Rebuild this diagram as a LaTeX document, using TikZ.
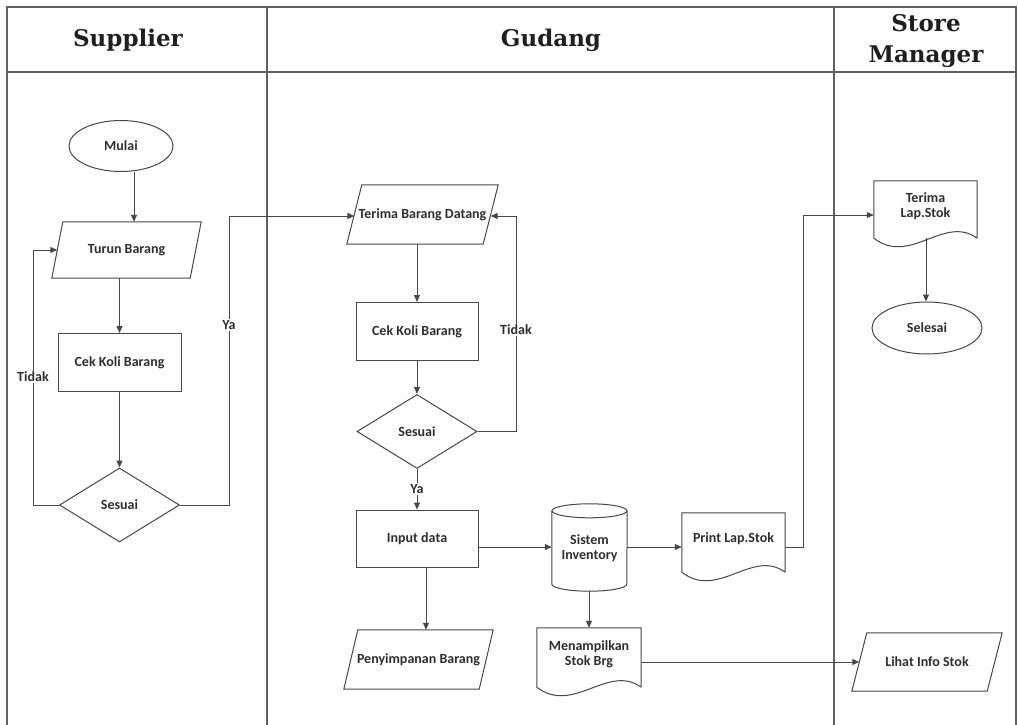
\documentclass[tikz,border=0pt]{standalone}
\usepackage{fontspec}
\setmainfont{Carlito}
\newfontfamily\headfont{DejaVu Serif}
\usetikzlibrary{shapes.geometric,arrows.meta,calc}

% outline helpers for shapes drawn around plain rectangular nodes
\newcommand\paraoutline[2]{%
  \draw[line] ([xshift=#2]#1.north west) -- (#1.north east)
    -- ([xshift=-#2]#1.south east) -- (#1.south west) -- cycle;}
\newcommand\docoutline[1]{%
  \draw[line] (#1.south east) -- (#1.north east) -- (#1.north west) -- (#1.south west)
    .. controls ($(#1.south west)!0.35!(#1.south east)+(0,28)$)
       and ($(#1.south west)!0.68!(#1.south east)+(0,-24)$) .. (#1.south east);}
\newcommand\cyloutline[3]{% node, x radius, y radius
  \draw[line] ([yshift=-#3]#1.north west) -- ([yshift=#3]#1.south west)
    arc[start angle=180, end angle=360, x radius=#2pt, y radius=#3pt]
    -- ([yshift=-#3]#1.north east);
  \draw[line] ([yshift=-#3]#1.north) ellipse[x radius=#2pt, y radius=#3pt];}

\begin{document}
\begin{tikzpicture}[x=1pt,y=-1pt,
  line/.style={draw=black!72, line width=1pt},
  frameline/.style={draw=black!62, line width=1.7pt},
  arr/.style={line, -{Triangle[length=7pt,width=6pt]}},
  txt/.style={font=\bfseries\fontsize{14}{16}\selectfont, text=black!82, align=center, inner sep=0pt},
  head/.style={font=\headfont\bfseries\fontsize{23}{31}\selectfont, text=black!88, align=center},
  procbox/.style={txt, rectangle, line, minimum width=#1, minimum height=58},
  termbox/.style={txt, ellipse, line, minimum width=#1, minimum height=51},
  decbox/.style={txt, diamond, line, minimum width=120, minimum height=74},
  plain/.style={txt, rectangle, minimum width=#1},
  lbl/.style={txt, fill=white, inner sep=1.5pt}
]
\useasboundingbox (0,0) rectangle (1018,725);

% swimlane frame
\draw[frameline] (7,725) -- (7,7) -- (1016,7) -- (1016,725);
\draw[frameline] (7,72) -- (1016,72);
\draw[frameline] (267,7) -- (267,725);
\draw[frameline] (834,7) -- (834,725);
\node[head] (hsup) at (128,40) {Supplier};
\node[head] (hgud) at (551,40) {Gudang};
\node[head] (hsm) at (926,41) {Store\\Manager};

% Supplier lane
\node[termbox=104] (mulai) at (121,146) {Mulai};
\node[plain=149, minimum height=56] (turun) at (126.5,250) {Turun Barang};
\paraoutline{turun}{11}
\node[procbox=123] (cek1) at (119.5,362.5) {Cek Koli Barang};
\node[decbox] (ses1) at (119.5,505) {Sesuai};

% Gudang lane
\node[plain=151, minimum height=59] (terima) at (422.5,214.5) {Terima Barang Datang};
\paraoutline{terima}{15}
\node[procbox=122] (cek2) at (417,331.5) {Cek Koli Barang};
\node[decbox] (ses2) at (417,431.5) {Sesuai};
\node[procbox=122, minimum height=57] (input) at (417,538.5) {Input data};
\node[plain=149, minimum height=59] (simpan) at (418.5,659.5) {Penyimpanan Barang};
\paraoutline{simpan}{14}
\node[plain=75, minimum height=87, text depth=0pt] (sistem) at (589.5,547.5) {Sistem\\[-1pt]Inventory};
\cyloutline{sistem}{37.5}{7}
\node[plain=103, minimum height=59] (print) at (733.5,542.5) {};
\node[txt] (printtxt) at (733.5,539) {Print Lap.Stok};
\docoutline{print}
\node[plain=104, minimum height=59] (tampil) at (589,657.5) {};
\node[txt] (tampiltxt) at (589,654.5) {Menampilkan\\[-1pt]Stok Brg};
\docoutline{tampil}

% Store Manager lane
\node[plain=103, minimum height=57] (terimalap) at (925.5,209.5) {};
\node[txt] (terimalaptxt) at (925.5,206.5) {Terima\\[-1pt]Lap.Stok};
\docoutline{terimalap}
\node[termbox=110, minimum height=52] (selesai) at (927,328) {Selesai};
\node[plain=150, minimum height=58] (lihat) at (927,662) {Lihat Info Stok};
\paraoutline{lihat}{15}

% routing points
\coordinate (xm) at (134,0);
\coordinate (xl) at (33,0);
\coordinate (xr) at (229,0);
\coordinate (xt) at (516,0);
\coordinate (xi) at (426,0);
\coordinate (xp) at (803,0);
\coordinate (yin) at (0,547);
\coordinate (yt) at (0,216);
\coordinate (yl) at (0,215);

% Supplier flow
\draw[arr] (mulai.south -| xm) -- (turun.north -| xm);
\draw[arr] (turun.south -| cek1.north) -- (cek1.north);
\draw[arr] (cek1.south) -- (ses1.north);
\draw[arr] (ses1.west) -- (ses1.west -| xl) -- (turun.west -| xl) -- ([xshift=5.5]turun.west);
\node[lbl] (tidak1) at (33,377) {Tidak};
\draw[arr] (ses1.east) -- (ses1.east -| xr) -- (xr |- yt) -- ([xshift=7.5]terima.west |- yt);
\node[lbl] (ya1) at (229,325) {Ya};

% Gudang flow
\draw[arr] (terima.south -| cek2.north) -- (cek2.north);
\draw[arr] (cek2.south) -- (ses2.north);
\draw[arr] (ses2.east) -- (ses2.east -| xt) -- (xt |- yt) -- ([xshift=-7.5]terima.east |- yt);
\node[lbl] (tidak2) at (516,330) {Tidak};
\draw[arr] (ses2.south) -- (input.north);
\node[lbl] (ya2) at (417,489) {Ya};
\draw[arr] (input.east |- yin) -- (sistem.west |- yin);
\draw[arr] (sistem.east |- yin) -- (print.west |- yin);
\draw[arr] (input.south -| xi) -- (simpan.north -| xi);
\draw[arr] (sistem.south -| tampil.north) -- (tampil.north);
\draw[arr] (print.east |- yin) -- (xp |- yin) -- (xp |- yl) -- (terimalap.west |- yl);

% to Store Manager
\draw[arr] (tampil.east |- lihat.west) -- ([xshift=7.5]lihat.west);
\draw[arr] (terimalap.south -| 926,0) -- (selesai.north -| 926,0);
\end{tikzpicture}
\end{document}
